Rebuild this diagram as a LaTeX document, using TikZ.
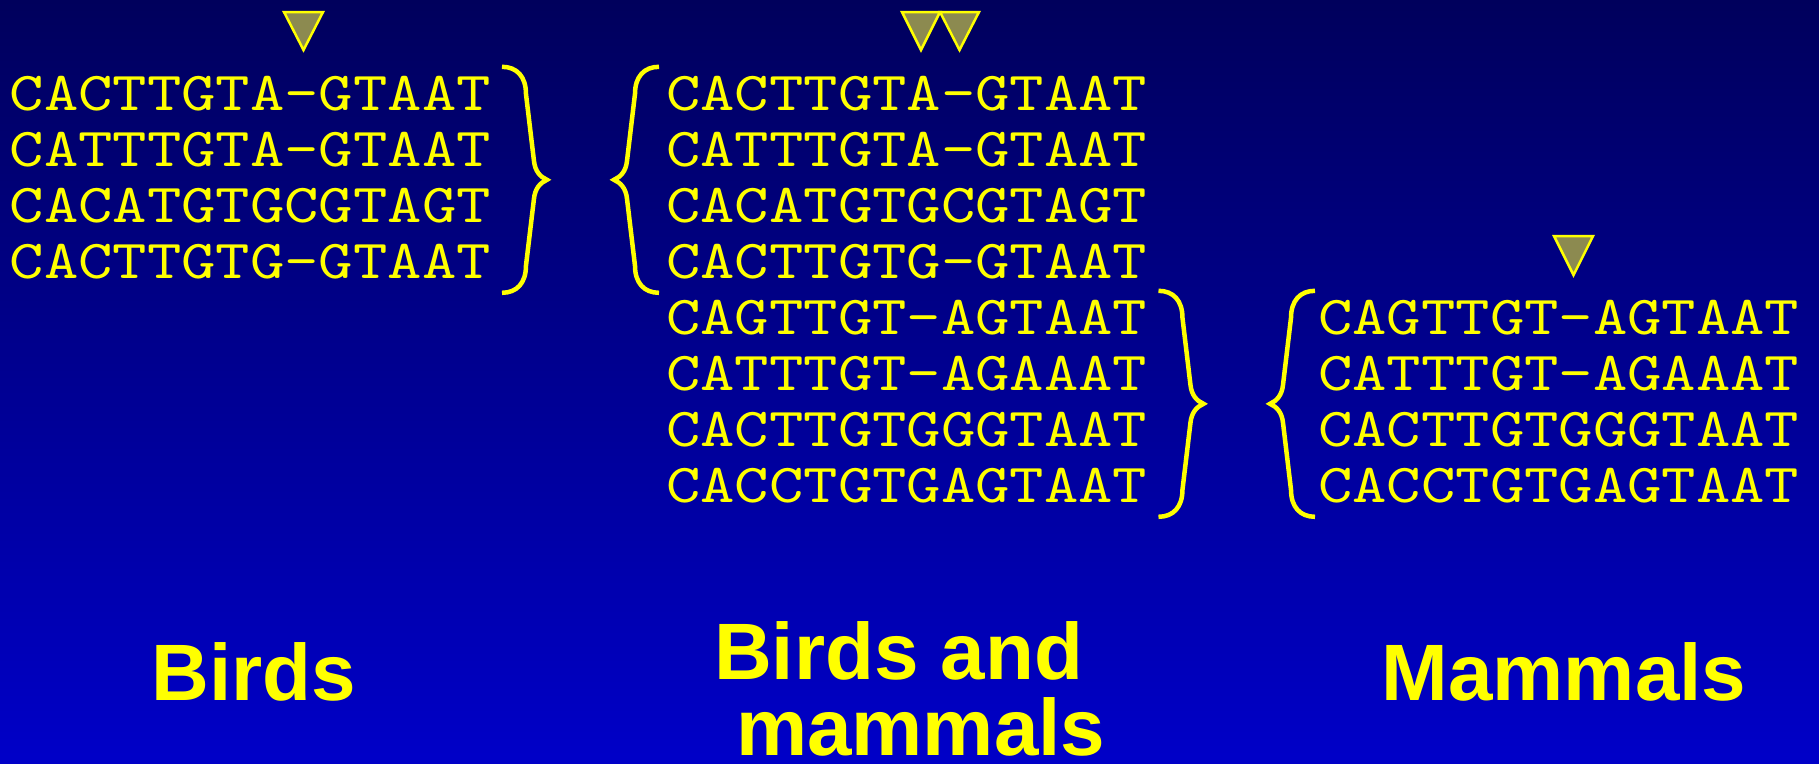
\documentclass[tikz,border=0pt]{standalone}
\usepackage{fontspec}
\setmainfont{Liberation Sans}
\newfontfamily\seqfont{lmmono10-regular.otf}[FakeStretch=1.19]
\definecolor{bgtop}{RGB}{0,0,92}
\definecolor{bgbot}{RGB}{0,0,200}
\definecolor{seqyellow}{RGB}{255,255,0}
\definecolor{olivemark}{RGB}{140,138,80}

\begin{document}
\begin{tikzpicture}[
  x=1pt, y=1pt,
  seq/.style={anchor=base west, inner sep=0pt, text height=43pt, text depth=15pt, text=seqyellow, font=\fontsize{55}{56}\selectfont\seqfont},
  brc/.style={draw=seqyellow, line width=4.5pt, line cap=butt, line join=miter},
  rbrace/.pic={\draw[brc] (0,0) .. controls (15,0) and (24,-10) .. (24,-27) -- (32,-94)
    .. controls (33,-104) and (38,-110) .. (45,-113)
    .. controls (38,-116) and (33,-122) .. (32,-132) -- (24,-199)
    .. controls (24,-216) and (15,-226) .. (0,-226);},
  tri/.style={draw=seqyellow, line width=2.5pt, fill=olivemark, line join=miter},
  lbl/.style={anchor=base, inner sep=0pt, text=seqyellow, font=\fontsize{80}{79}\selectfont\bfseries}
]
\fill[top color=bgtop, bottom color=bgbot] (0,0) rectangle (1819,-763);
\useasboundingbox (0,0) rectangle (1819,-763);

\node[seq] (b1) at (9.5,-110) {CACTTGTA-GTAAT};
\node[seq] (b2) at (9.5,-166) {CATTTGTA-GTAAT};
\node[seq] (b3) at (9.5,-222) {CACATGTGCGTAGT};
\node[seq] (b4) at (9.5,-278) {CACTTGTG-GTAAT};

\node[seq] (u1) at (666,-110) {CACTTGTA-GTAAT};
\node[seq] (u2) at (666,-166) {CATTTGTA-GTAAT};
\node[seq] (u3) at (666,-222) {CACATGTGCGTAGT};
\node[seq] (u4) at (666,-278) {CACTTGTG-GTAAT};
\node[seq] (u5) at (666,-334) {CAGTTGT-AGTAAT};
\node[seq] (u6) at (666,-390) {CATTTGT-AGAAAT};
\node[seq] (u7) at (666,-446) {CACTTGTGGGTAAT};
\node[seq] (u8) at (666,-502) {CACCTGTGAGTAAT};

\node[seq] (m1) at (1318,-334) {CAGTTGT-AGTAAT};
\node[seq] (m2) at (1318,-390) {CATTTGT-AGAAAT};
\node[seq] (m3) at (1318,-446) {CACTTGTGGGTAAT};
\node[seq] (m4) at (1318,-502) {CACCTGTGAGTAAT};

\pic at ([xshift=11pt]b1.north east) {rbrace};
\pic[xscale=-1] at ([xshift=-7pt]u1.north west) {rbrace};
\pic at ([xshift=11pt]u5.north east) {rbrace};
\pic[xscale=-1] at ([xshift=-3pt]m1.north west) {rbrace};

\draw[tri] (284,-12) -- (323,-12) -- (303.5,-50) -- cycle;
\draw[tri] (902,-12) -- (940,-12) -- (921,-50) -- cycle;
\draw[tri] (940,-12) -- (979,-12) -- (959.5,-50) -- cycle;
\draw[tri] (1554,-236) -- (1593,-236) -- (1573.5,-275) -- cycle;

\node[lbl] (birds) at (254,-700) {Birds};
\node[lbl, anchor=base west] (both) at (714,-679) {Birds and};
\node[lbl, anchor=base west] (both2) at (736,-755) {mammals};
\node[lbl] (mammals) at (1564,-700) {Mammals};
\end{tikzpicture}
\end{document}
